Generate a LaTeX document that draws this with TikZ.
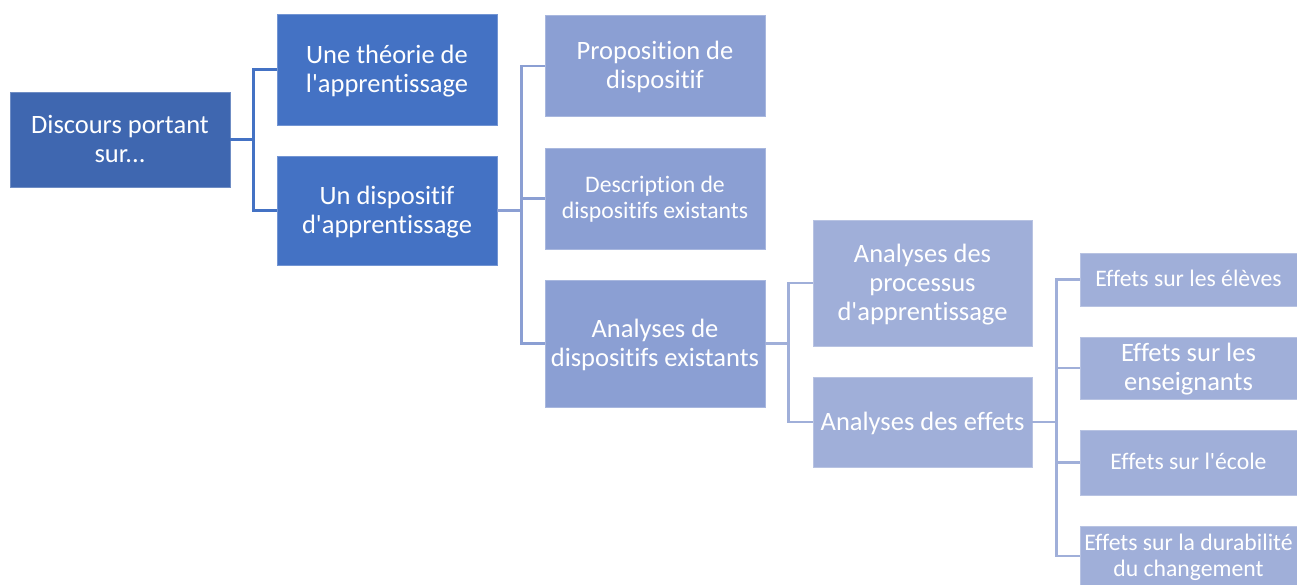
\documentclass[tikz,border=0pt]{standalone}
\usepackage{fontspec}
\setmainfont{Carlito}[Ligatures={TeXOff,NoCommon}]
\definecolor{croot}{HTML}{3F67B0}
\definecolor{cone}{HTML}{4472C4}
\definecolor{ctwo}{HTML}{8B9FD3}
\definecolor{cthree}{HTML}{A0AFD9}
\tikzset{
  box/.style={rectangle, inner sep=2pt, text=white, align=center, draw=white!25!#1, line width=0.6pt, fill=#1,
    text depth=2pt, font=\fontsize{26.5}{29}\selectfont},
  small/.style={font=\fontsize{23.7}{26}\selectfont},
  conn/.style={line width=2.6pt, draw=#1},
}
\begin{document}
\begin{tikzpicture}[x=1pt,y=-1pt]
\useasboundingbox (0,0) rectangle (1297,585);
\node[box=croot, minimum width=220, minimum height=95] (root) at (120,139.5) {Discours portant\\sur...};
\node[box=cone, minimum width=220, minimum height=111] (l1a) at (387,69.5) {Une théorie de\\l'apprentissage};
\node[box=cone, minimum width=220, minimum height=109] (l1b) at (387,210.5) {Un dispositif\\d'apprentissage};
\node[box=ctwo, minimum width=220, minimum height=101] (l2a) at (655,66) {Proposition de\\dispositif};
\node[box=ctwo, small, minimum width=220, minimum height=101] (l2b) at (655,198.5) {Description de\\dispositifs existants};
\node[box=ctwo, minimum width=220, minimum height=127] (l2c) at (655,343.5) {Analyses de\\dispositifs existants};
\node[box=cthree, minimum width=219, minimum height=126] (l3a) at (922.5,283) {Analyses des\\processus\\d'apprentissage};
\node[box=cthree, minimum width=219, minimum height=90] (l3b) at (922.5,422) {Analyses des effets};
\node[box=cthree, small, minimum width=217, minimum height=53] (l4a) at (1188.5,279.5) {Effets sur les élèves};
\node[box=cthree, minimum width=217, minimum height=62] (l4b) at (1188.5,368) {Effets sur les\\enseignants};
\node[box=cthree, small, minimum width=217, minimum height=65] (l4c) at (1188.5,462.5) {Effets sur l'école};
\node[box=cthree, small, minimum width=217, minimum height=60] (l4d) at (1188.5,556) {Effets sur la durabilité\\du changement};
\draw[conn=cone] (root.east) -- ++(23,0) |- (l1a.west);
\draw[conn=cone] (root.east) -- ++(23,0) |- (l1b.west);
\draw[conn=ctwo] (l1b.east) -- ++(24,0) |- (l2a.west);
\draw[conn=ctwo] (l1b.east) -- ++(24,0) |- (l2b.west);
\draw[conn=ctwo] (l1b.east) -- ++(24,0) |- (l2c.west);
\draw[conn=cthree] (l2c.east) -- ++(23,0) |- (l3a.west);
\draw[conn=cthree] (l2c.east) -- ++(23,0) |- (l3b.west);
\draw[conn=cthree] (l3b.east) -- ++(24,0) |- (l4a.west);
\draw[conn=cthree] (l3b.east) -- ++(24,0) |- (l4b.west);
\draw[conn=cthree] (l3b.east) -- ++(24,0) |- (l4c.west);
\draw[conn=cthree] (l3b.east) -- ++(24,0) |- (l4d.west);
\end{tikzpicture}
\end{document}
